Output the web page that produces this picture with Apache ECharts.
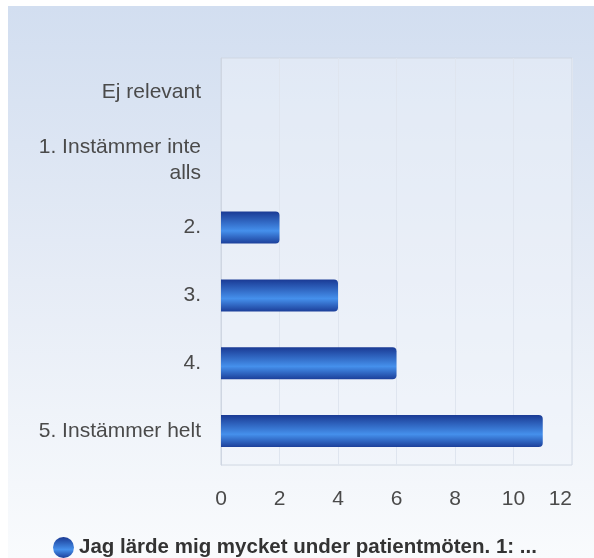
<!DOCTYPE html>
<html><head><meta charset="utf-8">
<script src="https://cdn.jsdelivr.net/npm/echarts@6/dist/echarts.min.js"></script>
<style>
html,body{margin:0;padding:0;background:#fff;}
#c{position:absolute;left:8px;top:6px;width:586px;height:552px;
background:linear-gradient(to bottom,#d2def0 0%,#e6ecf6 50%,#f9fbfd 100%);}
</style></head><body>
<div id="c"></div>
<script>
var categories = ['Ej relevant', '1. Instämmer inte\nalls', '2.', '3.', '4.', '5. Instämmer helt'];
var values = [0, 0, 2, 4, 6, 11];
var seriesName = 'Jag lärde mig mycket under patientmöten. 1: ...';
var xTicks = [0, 2, 4, 6, 8, 10, 12];

var chart = echarts.init(document.getElementById('c'));
var barGrad = new echarts.graphic.LinearGradient(0, 0, 0, 1, [
  {offset: 0, color: '#1a3a94'},
  {offset: 0.6, color: '#4590ec'},
  {offset: 1, color: '#1c3f9a'}
]);
chart.setOption({
  backgroundColor: 'transparent',
  animation: false,
  grid: {left: 213, right: 22, top: 52, bottom: 93, show: true,
    backgroundColor: 'rgba(240,244,250,0.45)', borderColor: '#cfd6e2', borderWidth: 1},
  xAxis: {type: 'value', min: 0, max: 12, interval: 2,
    axisLine: {show: false}, axisTick: {show: false},
    splitLine: {lineStyle: {color: '#dfe5ef'}},
    axisLabel: {color: '#4a4a4a', fontSize: 21, fontFamily: 'Liberation Sans', margin: 24,
      alignMaxLabel: 'right',
      formatter: function (v) { return xTicks.indexOf(v) >= 0 ? String(v) : ''; }}},
  yAxis: {type: 'category', data: categories, inverse: true,
    axisLine: {show: true, lineStyle: {color: '#cfd6e2'}}, axisTick: {show: false},
    axisLabel: {color: '#4a4a4a', fontSize: 21, fontFamily: 'Liberation Sans', margin: 20, align: 'right',
      lineHeight: 26}},
  legend: {bottom: -5, left: 40, icon: 'circle', itemWidth: 21, itemHeight: 21, itemGap: 6,
    textStyle: {fontSize: 20.5, fontWeight: 'bold', color: '#333', fontFamily: 'Liberation Sans'}},
  series: [{name: seriesName, type: 'bar', data: values, barWidth: 32,
    itemStyle: {color: barGrad, borderRadius: [0, 4, 4, 0]}}]
});
</script></body></html>
